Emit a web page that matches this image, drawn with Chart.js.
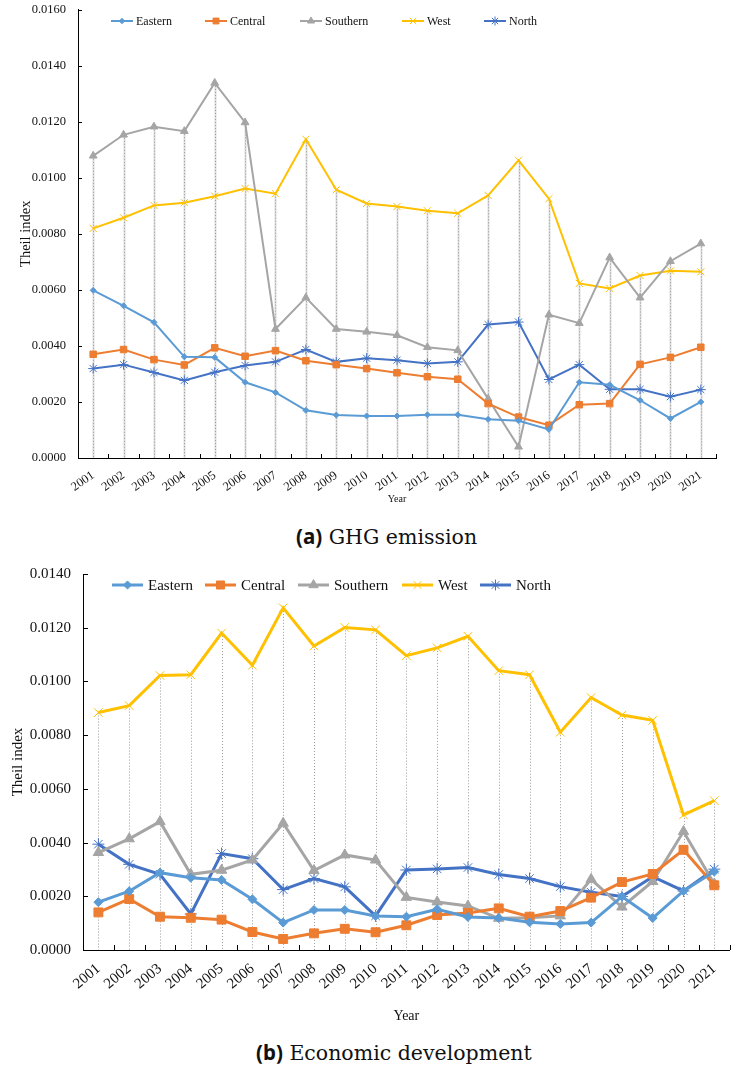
<!DOCTYPE html>
<html>
<head>
<meta charset="utf-8">
<script src="https://cdn.jsdelivr.net/npm/chart.js@4/dist/chart.umd.min.js"></script>
<style>
  body { margin: 0; background: #fff; }
  #page { position: relative; width: 737px; height: 1080px; overflow: hidden; }
  .box { position: absolute; left: 0; width: 737px; }
  .cap { position: absolute; white-space: nowrap; font-family: "DejaVu Serif", serif; font-size: 20.5px; color: #111; }
  .cap b { font-family: "Noto Sans", sans-serif; font-weight: 700; }
</style>
</head>
<body>
<div id="page">
  <div class="box" style="top:-2px;height:509px"><canvas id="ghgChart"></canvas></div>
  <div class="cap" style="top:522px;left:296px"><b>(a)</b> GHG emission</div>
  <div class="box" style="top:555px;height:480px"><canvas id="econChart"></canvas></div>
  <div class="cap" style="top:1038px;left:256px"><b>(b)</b> Economic development</div>
</div>
<script>
var years = ['2001','2002','2003','2004','2005','2006','2007','2008','2009','2010','2011',
             '2012','2013','2014','2015','2016','2017','2018','2019','2020','2021'];
var seriesNames = ['Eastern', 'Central', 'Southern', 'West', 'North'];

// (a) GHG emission
var ghgEastern  = [0.00598,0.00543,0.00484,0.00361,0.00359,0.00270,0.00234,0.00170,0.00153,0.00150,0.00150,
                   0.00154,0.00154,0.00138,0.00133,0.00102,0.00270,0.00261,0.00206,0.00141,0.00200];
var ghgCentral  = [0.00370,0.00387,0.00351,0.00332,0.00393,0.00363,0.00383,0.00347,0.00333,0.00319,0.00304,
                   0.00290,0.00281,0.00194,0.00146,0.00117,0.00190,0.00194,0.00334,0.00359,0.00395];
var ghgSouthern = [0.01078,0.01153,0.01182,0.01166,0.01338,0.01197,0.00460,0.00572,0.00460,0.00450,0.00438,
                   0.00395,0.00384,0.00211,0.00040,0.00511,0.00481,0.00715,0.00572,0.00702,0.00765];
var ghgWest     = [0.00819,0.00857,0.00901,0.00911,0.00934,0.00961,0.00943,0.01137,0.00957,0.00908,0.00897,
                   0.00882,0.00873,0.00937,0.01062,0.00925,0.00623,0.00605,0.00651,0.00668,0.00664];
var ghgNorth    = [0.00319,0.00333,0.00305,0.00277,0.00306,0.00330,0.00343,0.00387,0.00343,0.00356,0.00349,
                   0.00337,0.00343,0.00476,0.00485,0.00280,0.00333,0.00245,0.00245,0.00219,0.00244];

// (b) Economic development
var ecoEastern  = [0.00178,0.00219,0.00288,0.00269,0.00261,0.00189,0.00102,0.00149,0.00149,0.00127,0.00124,
                   0.00152,0.00123,0.00119,0.00103,0.00097,0.00102,0.00199,0.00119,0.00220,0.00292];
var ecoCentral  = [0.00140,0.00190,0.00124,0.00120,0.00113,0.00067,0.00041,0.00062,0.00079,0.00066,0.00092,
                   0.00130,0.00138,0.00155,0.00124,0.00145,0.00195,0.00253,0.00283,0.00373,0.00241];
var ecoSouthern = [0.00363,0.00414,0.00478,0.00282,0.00297,0.00335,0.00472,0.00296,0.00354,0.00335,0.00196,
                   0.00179,0.00164,0.00118,0.00120,0.00127,0.00263,0.00160,0.00255,0.00441,0.00246];
var ecoWest     = [0.00884,0.00910,0.01022,0.01025,0.01180,0.01060,0.01274,0.01132,0.01201,0.01192,0.01096,
                   0.01125,0.01168,0.01040,0.01025,0.00811,0.00940,0.00875,0.00855,0.00503,0.00556];
var ecoNorth    = [0.00394,0.00319,0.00282,0.00134,0.00359,0.00340,0.00225,0.00266,0.00235,0.00127,0.00298,
                   0.00302,0.00307,0.00281,0.00266,0.00236,0.00215,0.00199,0.00273,0.00220,0.00301];

var colors = ['#5B9BD5', '#ED7D31', '#A5A5A5', '#FFC000', '#4472C4'];
var markers = ['rectRot', 'rect', 'triangle', 'crossRot', 'star'];

function makeSets(arrays, radii, lw) {
    return arrays.map(function(d, i) {
        return {
            label: seriesNames[i],
            data: d,
            borderColor: colors[i],
            backgroundColor: colors[i],
            pointBackgroundColor: colors[i],
            pointBorderColor: colors[i],
            pointStyle: markers[i],
            pointRadius: radii[i],
            pointBorderWidth: 1,
            borderWidth: lw,
            tension: 0
        };
    });
}

// vertical drop lines from the highest point of each year to the axis
var dropLines = {
    id: 'dropLines',
    beforeDatasetsDraw: function(chart, args, opts) {
        var ctx = chart.ctx, xs = chart.scales.x, ys = chart.scales.y;
        var bottom = chart.chartArea.bottom;
        ctx.save();
        chart.data.labels.forEach(function(l, i) {
            var top = Math.max.apply(null, chart.data.datasets.map(function(ds) { return ds.data[i]; }));
            var x = Math.round(xs.getPixelForValue(i)) + 0.5;
            var y = ys.getPixelForValue(top);
            if (opts.under) {
                ctx.strokeStyle = opts.under;
                ctx.lineWidth = 2;
                ctx.setLineDash([]);
                ctx.beginPath(); ctx.moveTo(x, y); ctx.lineTo(x, bottom); ctx.stroke();
            }
            ctx.strokeStyle = opts.color;
            ctx.lineWidth = 1;
            ctx.setLineDash([1, 2]);
            ctx.beginPath(); ctx.moveTo(x, y); ctx.lineTo(x, bottom); ctx.stroke();
        });
        ctx.restore();
    }
};

// inward tick marks on both axes
var innerTicks = {
    id: 'innerTicks',
    afterDraw: function(chart, args, opts) {
        var ctx = chart.ctx, a = chart.chartArea, ys = chart.scales.y;
        var n = chart.data.labels.length, len = opts.len;
        ctx.save();
        ctx.strokeStyle = '#000';
        ctx.lineWidth = 1;
        ctx.beginPath();
        ys.ticks.forEach(function(t, i) {
            var y = Math.round(ys.getPixelForTick(i)) + 0.5;
            ctx.moveTo(a.left, y); ctx.lineTo(a.left + len, y);
        });
        for (var i = 1; i <= n; i++) {
            var x = Math.round(a.left + i * (a.right - a.left) / n) + 0.5;
            ctx.moveTo(x, a.bottom); ctx.lineTo(x, a.bottom - len);
        }
        ctx.stroke();
        ctx.restore();
    }
};

// legend drawn inside the plot area
var innerLegend = {
    id: 'innerLegend',
    afterDraw: function(chart, args, opts) {
        var ctx = chart.ctx;
        ctx.save();
        ctx.font = opts.font;
        ctx.textBaseline = 'middle';
        chart.data.datasets.forEach(function(ds, i) {
            var x = opts.xs[i], y = opts.y;
            ctx.strokeStyle = ds.borderColor;
            ctx.lineWidth = ds.borderWidth;
            ctx.beginPath(); ctx.moveTo(x, y); ctx.lineTo(x + opts.lineLen, y); ctx.stroke();
            if (Chart.helpers && Chart.helpers.drawPoint) {
                ctx.fillStyle = ds.pointBackgroundColor;
                ctx.strokeStyle = ds.pointBorderColor;
                ctx.lineWidth = 1;
                Chart.helpers.drawPoint(ctx, {pointStyle: ds.pointStyle, radius: ds.pointRadius * opts.scale, borderWidth: 1, rotation: 0},
                    x + opts.lineLen / 2, y);
            }
            ctx.fillStyle = '#111';
            ctx.fillText(ds.label, x + opts.lineLen + opts.gap, y + 1);
        });
        ctx.restore();
    }
};

function makeChart(id, sets, o) {
    return new Chart(document.getElementById(id).getContext('2d'), {
        type: 'line',
        data: { labels: years, datasets: sets },
        plugins: [dropLines, innerTicks, innerLegend],
        options: {
            responsive: true,
            maintainAspectRatio: false,
            animation: false,
            layout: { padding: { top: o.padTop, right: o.padRight, left: 0, bottom: 0 } },
            scales: {
                x: {
                    offset: true,
                    grid: { display: false },
                    border: { display: true, color: '#000', width: 1 },
                    ticks: { autoSkip: false, minRotation: o.rot, maxRotation: o.rot, padding: 2,
                             color: '#111', font: { family: 'Liberation Serif', size: o.xFont } },
                    title: { display: true, text: 'Year', color: '#111',
                             font: { family: 'Liberation Serif', size: o.yearFont },
                             padding: { top: 0, bottom: o.yearPad } },
                    afterFit: function(s) { s.height = o.xHeight; }
                },
                y: {
                    min: 0, max: o.yMax,
                    grid: { display: false },
                    border: { display: true, color: '#000', width: 1 },
                    ticks: { stepSize: 0.002, padding: 4, color: '#111',
                             font: { family: 'Liberation Serif', size: o.yFont },
                             callback: function(v) { return Number(v).toFixed(4); } },
                    title: { display: true, text: 'Theil index', color: '#111',
                             font: { family: 'Liberation Serif', size: o.titleFont },
                             padding: { top: o.titlePad, bottom: 0 } },
                    afterFit: function(s) { s.width = o.yWidth; }
                }
            },
            plugins: {
                legend: { display: false },
                tooltip: { enabled: false },
                dropLines: { color: '#9a9a9a', under: o.under },
                innerTicks: { len: o.tickLen },
                innerLegend: o.legend
            }
        }
    });
}

makeChart('ghgChart',
    makeSets([ghgEastern, ghgCentral, ghgSouthern, ghgWest, ghgNorth], [3, 4.6, 4.5, 5, 5], 2),
    { padTop: 0, padRight: 21, rot: 35, xFont: 12.5, yFont: 12.5, yearFont: 10, yearPad: 2,
      titleFont: 14.5, titlePad: 17, yMax: 0.016, xHeight: 49, yWidth: 78, tickLen: 4,
      under: 'rgba(200,200,200,0.6)',
      legend: { font: '12px "Liberation Serif"', y: 23, xs: [111, 205, 300, 402, 484], lineLen: 22, gap: 3, scale: 0.9 } });

makeChart('econChart',
    makeSets([ecoEastern, ecoCentral, ecoSouthern, ecoWest, ecoNorth], [4.5, 6.3, 6, 6, 6], 3),
    { padTop: 19, padRight: 2, rot: 40, xFont: 15, yFont: 15, yearFont: 14, yearPad: 10,
      titleFont: 15, titlePad: 9, yMax: 0.014, xHeight: 85, yWidth: 83, tickLen: 5,
      under: null,
      legend: { font: '15px "Liberation Serif"', y: 30, xs: [112, 205, 298, 402, 480], lineLen: 31, gap: 5, scale: 0.9 } });
</script>
</body>
</html>
